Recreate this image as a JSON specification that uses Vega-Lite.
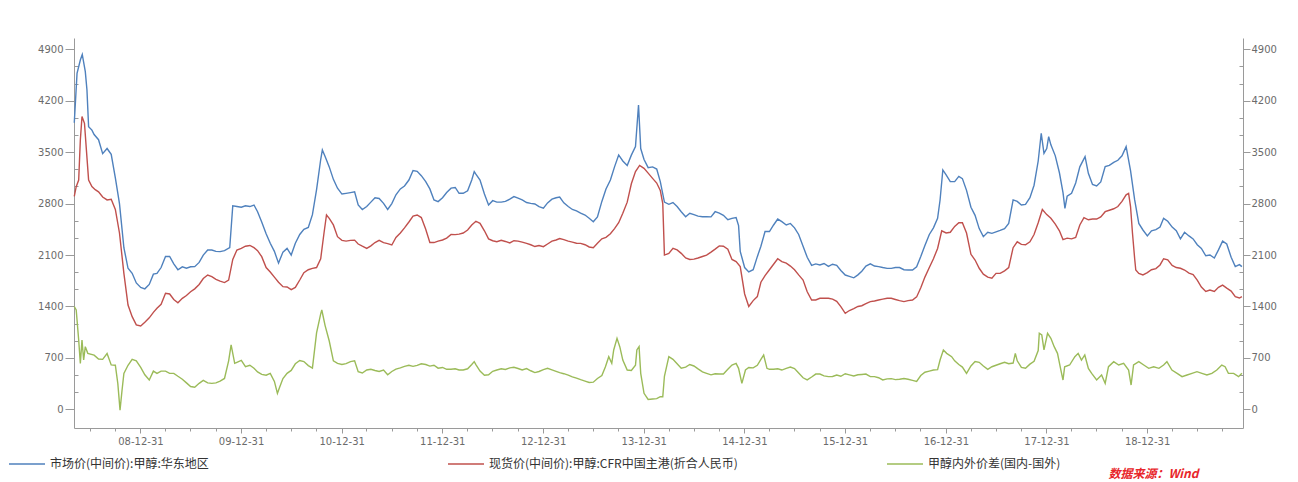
{
"$schema": "https://vega.github.io/schema/vega-lite/v6.json",
"width": 1169, "height": 390,
"autosize": {"type": "none"},
"padding": {"left": 74, "top": 38, "right": 55, "bottom": 54},
"background": "white",
"config": {"view": {"stroke": null}, "axis": {"grid": false, "domainColor": "#9a9a9a", "tickColor": "#9a9a9a", "labelColor": "#6b6b6b", "labelFont": "DejaVu Sans", "labelFontSize": 10}},
"title": {"text": "数据来源：Wind", "orient": "bottom", "anchor": "end", "font": "Noto Sans CJK SC", "fontSize": 12, "fontStyle": "italic", "fontWeight": "bold", "color": "#e8262b", "offset": -1, "dx": -78},
"datasets": {
"east": [
{"date":"2008-05-05","value":3900},{"date":"2008-05-15","value":4573},{"date":"2008-05-27","value":4755},{"date":"2008-06-03","value":4830},{"date":"2008-06-14","value":4596},{"date":"2008-06-20","value":4346},{"date":"2008-06-26","value":3847},{"date":"2008-07-08","value":3800},{"date":"2008-07-16","value":3740},{"date":"2008-08-01","value":3670},{"date":"2008-08-16","value":3480},{"date":"2008-09-01","value":3550},{"date":"2008-09-16","value":3470},{"date":"2008-10-01","value":3150},{"date":"2008-10-16","value":2800},{"date":"2008-11-01","value":2200},{"date":"2008-11-16","value":1920},{"date":"2008-12-01","value":1851},{"date":"2008-12-16","value":1720},
{"date":"2009-01-01","value":1660},{"date":"2009-01-16","value":1640},{"date":"2009-02-01","value":1700},{"date":"2009-02-16","value":1840},{"date":"2009-03-01","value":1850},{"date":"2009-03-16","value":1930},{"date":"2009-04-01","value":2080},{"date":"2009-04-16","value":2080},{"date":"2009-05-01","value":1980},{"date":"2009-05-16","value":1900},{"date":"2009-06-01","value":1940},{"date":"2009-06-16","value":1920},{"date":"2009-07-01","value":1940},{"date":"2009-07-16","value":1942},{"date":"2009-08-01","value":2000},{"date":"2009-08-16","value":2100},{"date":"2009-09-01","value":2169},{"date":"2009-09-16","value":2169},{"date":"2009-10-01","value":2150},{"date":"2009-10-16","value":2146},{"date":"2009-11-01","value":2160},{"date":"2009-11-20","value":2200},{"date":"2009-12-01","value":2770},{"date":"2009-12-16","value":2760},
{"date":"2010-01-01","value":2750},{"date":"2010-01-16","value":2770},{"date":"2010-02-01","value":2760},{"date":"2010-02-16","value":2781},{"date":"2010-03-01","value":2690},{"date":"2010-03-16","value":2550},{"date":"2010-04-01","value":2390},{"date":"2010-04-16","value":2260},{"date":"2010-05-01","value":2150},{"date":"2010-05-16","value":1990},{"date":"2010-06-01","value":2140},{"date":"2010-06-16","value":2190},{"date":"2010-07-01","value":2100},{"date":"2010-07-16","value":2260},{"date":"2010-08-01","value":2380},{"date":"2010-08-16","value":2450},{"date":"2010-09-01","value":2475},{"date":"2010-09-16","value":2650},{"date":"2010-10-01","value":2990},{"date":"2010-10-16","value":3400},{"date":"2010-10-22","value":3530},{"date":"2010-11-01","value":3440},{"date":"2010-11-16","value":3300},{"date":"2010-12-01","value":3130},{"date":"2010-12-16","value":3010},
{"date":"2011-01-01","value":2930},{"date":"2011-01-16","value":2940},{"date":"2011-02-01","value":2950},{"date":"2011-02-16","value":2960},{"date":"2011-03-01","value":2781},{"date":"2011-03-16","value":2720},{"date":"2011-04-01","value":2760},{"date":"2011-04-16","value":2820},{"date":"2011-05-01","value":2880},{"date":"2011-05-16","value":2870},{"date":"2011-06-01","value":2804},{"date":"2011-06-16","value":2720},{"date":"2011-07-01","value":2800},{"date":"2011-07-16","value":2920},{"date":"2011-08-01","value":3000},{"date":"2011-08-16","value":3040},{"date":"2011-09-01","value":3121},{"date":"2011-09-16","value":3250},{"date":"2011-10-01","value":3240},{"date":"2011-10-16","value":3180},{"date":"2011-11-01","value":3100},{"date":"2011-11-16","value":3000},{"date":"2011-12-01","value":2849},{"date":"2011-12-16","value":2827},
{"date":"2012-01-01","value":2880},{"date":"2012-01-16","value":2950},{"date":"2012-02-01","value":3010},{"date":"2012-02-16","value":3020},{"date":"2012-03-01","value":2940},{"date":"2012-03-16","value":2940},{"date":"2012-04-01","value":2975},{"date":"2012-04-16","value":3121},{"date":"2012-04-25","value":3235},{"date":"2012-05-01","value":3200},{"date":"2012-05-16","value":3121},{"date":"2012-06-01","value":2930},{"date":"2012-06-16","value":2781},{"date":"2012-07-01","value":2840},{"date":"2012-07-16","value":2820},{"date":"2012-08-01","value":2820},{"date":"2012-08-16","value":2830},{"date":"2012-09-01","value":2860},{"date":"2012-09-16","value":2895},{"date":"2012-10-01","value":2875},{"date":"2012-10-16","value":2850},{"date":"2012-11-01","value":2815},{"date":"2012-11-16","value":2804},{"date":"2012-12-01","value":2795},{"date":"2012-12-16","value":2758},
{"date":"2013-01-01","value":2738},{"date":"2013-01-16","value":2810},{"date":"2013-02-01","value":2860},{"date":"2013-02-16","value":2880},{"date":"2013-03-01","value":2890},{"date":"2013-03-16","value":2810},{"date":"2013-04-01","value":2760},{"date":"2013-04-16","value":2720},{"date":"2013-05-01","value":2700},{"date":"2013-05-16","value":2670},{"date":"2013-06-01","value":2645},{"date":"2013-06-16","value":2600},{"date":"2013-07-01","value":2554},{"date":"2013-07-16","value":2620},{"date":"2013-08-01","value":2830},{"date":"2013-08-16","value":3000},{"date":"2013-09-01","value":3121},{"date":"2013-09-16","value":3300},{"date":"2013-10-01","value":3462},{"date":"2013-10-16","value":3380},{"date":"2013-11-01","value":3320},{"date":"2013-11-16","value":3460},{"date":"2013-12-01","value":3575},{"date":"2013-12-12","value":4142},{"date":"2013-12-20","value":3550},
{"date":"2014-01-01","value":3400},{"date":"2014-01-16","value":3290},{"date":"2014-02-01","value":3300},{"date":"2014-02-16","value":3270},{"date":"2014-03-01","value":3100},{"date":"2014-03-16","value":2820},{"date":"2014-04-01","value":2790},{"date":"2014-04-16","value":2815},{"date":"2014-05-01","value":2760},{"date":"2014-05-16","value":2690},{"date":"2014-06-01","value":2622},{"date":"2014-06-16","value":2668},{"date":"2014-07-01","value":2650},{"date":"2014-07-16","value":2630},{"date":"2014-08-01","value":2622},{"date":"2014-08-16","value":2622},{"date":"2014-09-01","value":2620},{"date":"2014-09-16","value":2690},{"date":"2014-10-01","value":2670},{"date":"2014-10-16","value":2640},{"date":"2014-11-01","value":2580},{"date":"2014-11-16","value":2600},{"date":"2014-12-01","value":2610},{"date":"2014-12-10","value":2500},{"date":"2014-12-16","value":2150},
{"date":"2015-01-01","value":1930},{"date":"2015-01-16","value":1870},{"date":"2015-02-01","value":1900},{"date":"2015-02-16","value":2078},{"date":"2015-03-01","value":2220},{"date":"2015-03-16","value":2420},{"date":"2015-04-01","value":2420},{"date":"2015-04-16","value":2509},{"date":"2015-05-01","value":2590},{"date":"2015-05-16","value":2554},{"date":"2015-06-01","value":2509},{"date":"2015-06-16","value":2530},{"date":"2015-07-01","value":2470},{"date":"2015-07-16","value":2380},{"date":"2015-08-01","value":2220},{"date":"2015-08-16","value":2070},{"date":"2015-09-01","value":1960},{"date":"2015-09-16","value":1980},{"date":"2015-10-01","value":1965},{"date":"2015-10-16","value":1985},{"date":"2015-11-01","value":1945},{"date":"2015-11-16","value":1975},{"date":"2015-12-01","value":1960},{"date":"2015-12-16","value":1890},
{"date":"2016-01-01","value":1828},{"date":"2016-01-16","value":1810},{"date":"2016-02-01","value":1790},{"date":"2016-02-16","value":1830},{"date":"2016-03-01","value":1880},{"date":"2016-03-16","value":1950},{"date":"2016-04-01","value":1980},{"date":"2016-04-16","value":1950},{"date":"2016-05-01","value":1942},{"date":"2016-05-16","value":1930},{"date":"2016-06-01","value":1919},{"date":"2016-06-16","value":1919},{"date":"2016-07-01","value":1930},{"date":"2016-07-16","value":1930},{"date":"2016-08-01","value":1900},{"date":"2016-08-16","value":1896},{"date":"2016-09-01","value":1896},{"date":"2016-09-16","value":1940},{"date":"2016-10-01","value":2080},{"date":"2016-10-16","value":2230},{"date":"2016-11-01","value":2380},{"date":"2016-11-16","value":2470},{"date":"2016-12-01","value":2600},{"date":"2016-12-10","value":2849},{"date":"2016-12-20","value":3258},
{"date":"2017-01-01","value":3190},{"date":"2017-01-16","value":3099},{"date":"2017-02-01","value":3099},{"date":"2017-02-16","value":3170},{"date":"2017-03-01","value":3140},{"date":"2017-03-16","value":2980},{"date":"2017-04-01","value":2750},{"date":"2017-04-16","value":2640},{"date":"2017-05-01","value":2460},{"date":"2017-05-16","value":2350},{"date":"2017-06-01","value":2410},{"date":"2017-06-16","value":2395},{"date":"2017-07-01","value":2415},{"date":"2017-07-16","value":2435},{"date":"2017-08-01","value":2460},{"date":"2017-08-16","value":2530},{"date":"2017-09-01","value":2850},{"date":"2017-09-16","value":2830},{"date":"2017-10-01","value":2781},{"date":"2017-10-16","value":2790},{"date":"2017-11-01","value":2880},{"date":"2017-11-16","value":3050},{"date":"2017-12-01","value":3380},{"date":"2017-12-12","value":3757},{"date":"2017-12-22","value":3484},
{"date":"2018-01-01","value":3550},{"date":"2018-01-08","value":3711},{"date":"2018-01-16","value":3600},{"date":"2018-02-01","value":3450},{"date":"2018-02-16","value":3220},{"date":"2018-03-01","value":2950},{"date":"2018-03-08","value":2736},{"date":"2018-03-16","value":2900},{"date":"2018-04-01","value":2940},{"date":"2018-04-16","value":3080},{"date":"2018-05-01","value":3300},{"date":"2018-05-20","value":3439},{"date":"2018-06-01","value":3212},{"date":"2018-06-16","value":3060},{"date":"2018-07-01","value":3040},{"date":"2018-07-16","value":3095},{"date":"2018-08-01","value":3303},{"date":"2018-08-16","value":3320},{"date":"2018-09-01","value":3360},{"date":"2018-09-16","value":3390},{"date":"2018-10-01","value":3450},{"date":"2018-10-16","value":3575},{"date":"2018-11-01","value":3250},{"date":"2018-11-16","value":2850},{"date":"2018-12-01","value":2530},{"date":"2018-12-16","value":2441},
{"date":"2019-01-01","value":2360},{"date":"2019-01-16","value":2430},{"date":"2019-02-01","value":2445},{"date":"2019-02-16","value":2480},{"date":"2019-03-01","value":2600},{"date":"2019-03-16","value":2560},{"date":"2019-04-01","value":2480},{"date":"2019-04-16","value":2430},{"date":"2019-05-01","value":2320},{"date":"2019-05-16","value":2410},{"date":"2019-06-01","value":2360},{"date":"2019-06-16","value":2320},{"date":"2019-07-01","value":2240},{"date":"2019-07-16","value":2191},{"date":"2019-08-01","value":2090},{"date":"2019-08-16","value":2100},{"date":"2019-09-01","value":2060},{"date":"2019-09-16","value":2170},{"date":"2019-10-01","value":2290},{"date":"2019-10-16","value":2250},{"date":"2019-11-01","value":2070},{"date":"2019-11-16","value":1942},{"date":"2019-12-01","value":1970},{"date":"2019-12-10","value":1942}
],
"cfr": [
{"date":"2008-05-05","value":2900},{"date":"2008-05-12","value":3031},{"date":"2008-05-21","value":3121},{"date":"2008-05-27","value":3666},{"date":"2008-06-02","value":3984},{"date":"2008-06-11","value":3893},{"date":"2008-06-18","value":3530},{"date":"2008-06-26","value":3121},{"date":"2008-07-08","value":3031},{"date":"2008-07-20","value":2990},{"date":"2008-08-01","value":2960},{"date":"2008-08-16","value":2890},{"date":"2008-09-01","value":2850},{"date":"2008-09-16","value":2860},{"date":"2008-10-01","value":2720},{"date":"2008-10-16","value":2400},{"date":"2008-11-01","value":1851},{"date":"2008-11-16","value":1420},{"date":"2008-12-01","value":1261},{"date":"2008-12-16","value":1150},
{"date":"2009-01-01","value":1135},{"date":"2009-01-16","value":1185},{"date":"2009-02-01","value":1245},{"date":"2009-02-16","value":1320},{"date":"2009-03-01","value":1375},{"date":"2009-03-16","value":1430},{"date":"2009-04-01","value":1580},{"date":"2009-04-16","value":1570},{"date":"2009-05-01","value":1495},{"date":"2009-05-16","value":1450},{"date":"2009-06-01","value":1511},{"date":"2009-06-16","value":1550},{"date":"2009-07-01","value":1600},{"date":"2009-07-16","value":1640},{"date":"2009-08-01","value":1700},{"date":"2009-08-16","value":1780},{"date":"2009-09-01","value":1828},{"date":"2009-09-16","value":1806},{"date":"2009-10-01","value":1770},{"date":"2009-10-16","value":1745},{"date":"2009-11-01","value":1725},{"date":"2009-11-16","value":1760},{"date":"2009-12-01","value":2040},{"date":"2009-12-16","value":2169},
{"date":"2010-01-01","value":2190},{"date":"2010-01-16","value":2220},{"date":"2010-02-01","value":2230},{"date":"2010-02-16","value":2200},{"date":"2010-03-01","value":2160},{"date":"2010-03-16","value":2078},{"date":"2010-04-01","value":1930},{"date":"2010-04-16","value":1870},{"date":"2010-05-01","value":1800},{"date":"2010-05-16","value":1730},{"date":"2010-06-01","value":1670},{"date":"2010-06-16","value":1665},{"date":"2010-07-01","value":1630},{"date":"2010-07-16","value":1660},{"date":"2010-08-01","value":1760},{"date":"2010-08-16","value":1860},{"date":"2010-09-01","value":1900},{"date":"2010-09-16","value":1919},{"date":"2010-10-01","value":1930},{"date":"2010-10-16","value":2050},{"date":"2010-10-28","value":2400},{"date":"2010-11-06","value":2645},{"date":"2010-11-16","value":2600},{"date":"2010-12-01","value":2510},{"date":"2010-12-16","value":2350},
{"date":"2011-01-01","value":2300},{"date":"2011-01-16","value":2290},{"date":"2011-02-01","value":2300},{"date":"2011-02-16","value":2303},{"date":"2011-03-01","value":2250},{"date":"2011-03-16","value":2220},{"date":"2011-04-01","value":2191},{"date":"2011-04-16","value":2225},{"date":"2011-05-01","value":2270},{"date":"2011-05-16","value":2300},{"date":"2011-06-01","value":2270},{"date":"2011-06-16","value":2255},{"date":"2011-07-01","value":2237},{"date":"2011-07-16","value":2340},{"date":"2011-08-01","value":2400},{"date":"2011-08-16","value":2470},{"date":"2011-09-01","value":2550},{"date":"2011-09-16","value":2630},{"date":"2011-10-01","value":2645},{"date":"2011-10-16","value":2610},{"date":"2011-11-01","value":2450},{"date":"2011-11-16","value":2270},{"date":"2011-12-01","value":2270},{"date":"2011-12-16","value":2290},
{"date":"2012-01-01","value":2305},{"date":"2012-01-16","value":2330},{"date":"2012-02-01","value":2380},{"date":"2012-02-16","value":2378},{"date":"2012-03-01","value":2385},{"date":"2012-03-16","value":2400},{"date":"2012-04-01","value":2440},{"date":"2012-04-16","value":2509},{"date":"2012-05-01","value":2560},{"date":"2012-05-16","value":2532},{"date":"2012-06-01","value":2430},{"date":"2012-06-16","value":2320},{"date":"2012-07-01","value":2295},{"date":"2012-07-16","value":2282},{"date":"2012-08-01","value":2300},{"date":"2012-08-16","value":2285},{"date":"2012-09-01","value":2265},{"date":"2012-09-16","value":2295},{"date":"2012-10-01","value":2290},{"date":"2012-10-16","value":2275},{"date":"2012-11-01","value":2259},{"date":"2012-11-16","value":2240},{"date":"2012-12-01","value":2216},{"date":"2012-12-16","value":2230},
{"date":"2013-01-01","value":2214},{"date":"2013-01-16","value":2250},{"date":"2013-02-01","value":2290},{"date":"2013-02-16","value":2305},{"date":"2013-03-01","value":2325},{"date":"2013-03-16","value":2310},{"date":"2013-04-01","value":2290},{"date":"2013-04-16","value":2275},{"date":"2013-05-01","value":2260},{"date":"2013-05-16","value":2259},{"date":"2013-06-01","value":2240},{"date":"2013-06-16","value":2210},{"date":"2013-07-01","value":2200},{"date":"2013-07-16","value":2260},{"date":"2013-08-01","value":2320},{"date":"2013-08-16","value":2340},{"date":"2013-09-01","value":2390},{"date":"2013-09-16","value":2460},{"date":"2013-10-01","value":2540},{"date":"2013-10-16","value":2670},{"date":"2013-11-01","value":2820},{"date":"2013-11-16","value":3070},{"date":"2013-12-01","value":3235},{"date":"2013-12-16","value":3320},
{"date":"2014-01-01","value":3280},{"date":"2014-01-16","value":3215},{"date":"2014-02-01","value":3144},{"date":"2014-02-16","value":3080},{"date":"2014-03-01","value":2980},{"date":"2014-03-10","value":2800},{"date":"2014-03-16","value":2100},{"date":"2014-04-01","value":2123},{"date":"2014-04-16","value":2191},{"date":"2014-05-01","value":2169},{"date":"2014-05-16","value":2123},{"date":"2014-06-01","value":2060},{"date":"2014-06-16","value":2040},{"date":"2014-07-01","value":2045},{"date":"2014-07-16","value":2060},{"date":"2014-08-01","value":2080},{"date":"2014-08-16","value":2100},{"date":"2014-09-01","value":2140},{"date":"2014-09-16","value":2180},{"date":"2014-10-01","value":2225},{"date":"2014-10-16","value":2220},{"date":"2014-11-01","value":2180},{"date":"2014-11-16","value":2040},{"date":"2014-12-01","value":2010},{"date":"2014-12-16","value":1942},
{"date":"2015-01-01","value":1570},{"date":"2015-01-16","value":1400},{"date":"2015-02-01","value":1480},{"date":"2015-02-16","value":1534},{"date":"2015-03-01","value":1730},{"date":"2015-03-16","value":1820},{"date":"2015-04-01","value":1900},{"date":"2015-04-16","value":1975},{"date":"2015-05-01","value":2050},{"date":"2015-05-16","value":2010},{"date":"2015-06-01","value":1990},{"date":"2015-06-16","value":1950},{"date":"2015-07-01","value":1900},{"date":"2015-07-16","value":1830},{"date":"2015-08-01","value":1760},{"date":"2015-08-16","value":1600},{"date":"2015-09-01","value":1488},{"date":"2015-09-16","value":1488},{"date":"2015-10-01","value":1511},{"date":"2015-10-16","value":1511},{"date":"2015-11-01","value":1511},{"date":"2015-11-16","value":1500},{"date":"2015-12-01","value":1470},{"date":"2015-12-16","value":1397},
{"date":"2016-01-01","value":1307},{"date":"2016-01-16","value":1345},{"date":"2016-02-01","value":1370},{"date":"2016-02-16","value":1400},{"date":"2016-03-01","value":1410},{"date":"2016-03-16","value":1440},{"date":"2016-04-01","value":1466},{"date":"2016-04-16","value":1475},{"date":"2016-05-01","value":1488},{"date":"2016-05-16","value":1500},{"date":"2016-06-01","value":1511},{"date":"2016-06-16","value":1511},{"date":"2016-07-01","value":1495},{"date":"2016-07-16","value":1480},{"date":"2016-08-01","value":1466},{"date":"2016-08-16","value":1480},{"date":"2016-09-01","value":1488},{"date":"2016-09-16","value":1530},{"date":"2016-10-01","value":1655},{"date":"2016-10-16","value":1800},{"date":"2016-11-01","value":1930},{"date":"2016-11-16","value":2050},{"date":"2016-12-01","value":2190},{"date":"2016-12-16","value":2430},
{"date":"2017-01-01","value":2400},{"date":"2017-01-16","value":2410},{"date":"2017-02-01","value":2490},{"date":"2017-02-16","value":2540},{"date":"2017-03-01","value":2540},{"date":"2017-03-16","value":2400},{"date":"2017-04-01","value":2110},{"date":"2017-04-16","value":2032},{"date":"2017-05-01","value":1920},{"date":"2017-05-16","value":1840},{"date":"2017-06-01","value":1800},{"date":"2017-06-16","value":1785},{"date":"2017-07-01","value":1851},{"date":"2017-07-16","value":1851},{"date":"2017-08-01","value":1885},{"date":"2017-08-16","value":1930},{"date":"2017-09-01","value":2200},{"date":"2017-09-16","value":2280},{"date":"2017-10-01","value":2245},{"date":"2017-10-16","value":2240},{"date":"2017-11-01","value":2280},{"date":"2017-11-16","value":2380},{"date":"2017-12-01","value":2540},{"date":"2017-12-16","value":2720},
{"date":"2018-01-01","value":2650},{"date":"2018-01-16","value":2600},{"date":"2018-02-01","value":2520},{"date":"2018-02-16","value":2430},{"date":"2018-03-01","value":2310},{"date":"2018-03-16","value":2330},{"date":"2018-04-01","value":2320},{"date":"2018-04-16","value":2340},{"date":"2018-05-01","value":2509},{"date":"2018-05-16","value":2610},{"date":"2018-06-01","value":2580},{"date":"2018-06-16","value":2590},{"date":"2018-07-01","value":2590},{"date":"2018-07-16","value":2620},{"date":"2018-08-01","value":2690},{"date":"2018-08-16","value":2710},{"date":"2018-09-01","value":2730},{"date":"2018-09-16","value":2760},{"date":"2018-10-01","value":2830},{"date":"2018-10-16","value":2920},{"date":"2018-10-25","value":2940},{"date":"2018-11-01","value":2760},{"date":"2018-11-08","value":2400},{"date":"2018-11-16","value":2050},{"date":"2018-11-20","value":1896},{"date":"2018-12-01","value":1850},{"date":"2018-12-16","value":1830},
{"date":"2019-01-01","value":1860},{"date":"2019-01-16","value":1900},{"date":"2019-02-01","value":1915},{"date":"2019-02-16","value":1965},{"date":"2019-03-01","value":2050},{"date":"2019-03-16","value":2035},{"date":"2019-04-01","value":1960},{"date":"2019-04-16","value":1930},{"date":"2019-05-01","value":1920},{"date":"2019-05-16","value":1896},{"date":"2019-06-01","value":1855},{"date":"2019-06-16","value":1835},{"date":"2019-07-01","value":1760},{"date":"2019-07-16","value":1665},{"date":"2019-08-01","value":1605},{"date":"2019-08-16","value":1624},{"date":"2019-09-01","value":1605},{"date":"2019-09-16","value":1660},{"date":"2019-10-01","value":1690},{"date":"2019-10-16","value":1650},{"date":"2019-11-01","value":1610},{"date":"2019-11-16","value":1534},{"date":"2019-12-01","value":1515},{"date":"2019-12-10","value":1534}
],
"spread": [
{"date":"2008-05-05","value":1400},{"date":"2008-05-12","value":1352},{"date":"2008-05-21","value":944},{"date":"2008-05-27","value":626},{"date":"2008-06-02","value":944},{"date":"2008-06-08","value":671},{"date":"2008-06-14","value":853},{"date":"2008-06-23","value":762},{"date":"2008-07-16","value":738},{"date":"2008-08-01","value":685},{"date":"2008-08-16","value":680},{"date":"2008-09-01","value":760},{"date":"2008-09-16","value":605},{"date":"2008-10-01","value":600},{"date":"2008-10-10","value":350},{"date":"2008-10-18","value":-10},{"date":"2008-10-25","value":250},{"date":"2008-11-01","value":490},{"date":"2008-11-16","value":600},{"date":"2008-12-01","value":680},{"date":"2008-12-16","value":660},
{"date":"2009-01-01","value":570},{"date":"2009-01-16","value":470},{"date":"2009-02-01","value":399},{"date":"2009-02-16","value":520},{"date":"2009-03-01","value":490},{"date":"2009-03-16","value":520},{"date":"2009-04-01","value":520},{"date":"2009-04-16","value":490},{"date":"2009-05-01","value":490},{"date":"2009-05-16","value":450},{"date":"2009-06-01","value":410},{"date":"2009-06-16","value":360},{"date":"2009-07-01","value":310},{"date":"2009-07-16","value":300},{"date":"2009-08-01","value":354},{"date":"2009-08-16","value":395},{"date":"2009-09-01","value":360},{"date":"2009-09-16","value":354},{"date":"2009-10-01","value":360},{"date":"2009-10-16","value":385},{"date":"2009-11-01","value":420},{"date":"2009-11-16","value":660},{"date":"2009-11-25","value":876},{"date":"2009-12-08","value":626},{"date":"2009-12-16","value":640},
{"date":"2010-01-01","value":665},{"date":"2010-01-16","value":580},{"date":"2010-02-01","value":600},{"date":"2010-02-16","value":560},{"date":"2010-03-01","value":510},{"date":"2010-03-16","value":475},{"date":"2010-04-01","value":465},{"date":"2010-04-16","value":490},{"date":"2010-05-01","value":380},{"date":"2010-05-12","value":218},{"date":"2010-05-20","value":300},{"date":"2010-06-01","value":420},{"date":"2010-06-16","value":490},{"date":"2010-07-01","value":530},{"date":"2010-07-16","value":620},{"date":"2010-08-01","value":665},{"date":"2010-08-16","value":650},{"date":"2010-09-01","value":595},{"date":"2010-09-16","value":560},{"date":"2010-10-01","value":1040},{"date":"2010-10-16","value":1300},{"date":"2010-10-20","value":1352},{"date":"2010-11-01","value":1140},{"date":"2010-11-16","value":930},{"date":"2010-12-01","value":660},{"date":"2010-12-16","value":625},
{"date":"2011-01-01","value":610},{"date":"2011-01-16","value":622},{"date":"2011-02-01","value":650},{"date":"2011-02-16","value":660},{"date":"2011-03-01","value":513},{"date":"2011-03-16","value":495},{"date":"2011-04-01","value":535},{"date":"2011-04-16","value":545},{"date":"2011-05-01","value":528},{"date":"2011-05-16","value":515},{"date":"2011-06-01","value":535},{"date":"2011-06-16","value":470},{"date":"2011-07-01","value":515},{"date":"2011-07-16","value":548},{"date":"2011-08-01","value":565},{"date":"2011-08-16","value":585},{"date":"2011-09-01","value":600},{"date":"2011-09-16","value":585},{"date":"2011-10-01","value":598},{"date":"2011-10-16","value":620},{"date":"2011-11-01","value":610},{"date":"2011-11-16","value":588},{"date":"2011-12-01","value":600},{"date":"2011-12-16","value":560},
{"date":"2012-01-01","value":570},{"date":"2012-01-16","value":545},{"date":"2012-02-01","value":545},{"date":"2012-02-16","value":552},{"date":"2012-03-01","value":535},{"date":"2012-03-16","value":535},{"date":"2012-04-01","value":552},{"date":"2012-04-16","value":610},{"date":"2012-04-25","value":649},{"date":"2012-05-01","value":610},{"date":"2012-05-16","value":520},{"date":"2012-06-01","value":465},{"date":"2012-06-16","value":470},{"date":"2012-07-01","value":518},{"date":"2012-07-16","value":535},{"date":"2012-08-01","value":553},{"date":"2012-08-16","value":543},{"date":"2012-09-01","value":565},{"date":"2012-09-16","value":572},{"date":"2012-10-01","value":556},{"date":"2012-10-16","value":535},{"date":"2012-11-01","value":555},{"date":"2012-11-16","value":525},{"date":"2012-12-01","value":500},{"date":"2012-12-16","value":515},
{"date":"2013-01-01","value":540},{"date":"2013-01-16","value":558},{"date":"2013-02-01","value":537},{"date":"2013-02-16","value":517},{"date":"2013-03-01","value":500},{"date":"2013-03-16","value":485},{"date":"2013-04-01","value":466},{"date":"2013-04-16","value":442},{"date":"2013-05-01","value":424},{"date":"2013-05-16","value":404},{"date":"2013-06-01","value":385},{"date":"2013-06-16","value":365},{"date":"2013-07-01","value":370},{"date":"2013-07-16","value":420},{"date":"2013-08-01","value":460},{"date":"2013-08-14","value":580},{"date":"2013-08-26","value":717},{"date":"2013-09-06","value":626},{"date":"2013-09-13","value":808},{"date":"2013-09-25","value":966},{"date":"2013-10-05","value":853},{"date":"2013-10-16","value":671},{"date":"2013-11-01","value":535},{"date":"2013-11-16","value":530},{"date":"2013-12-01","value":600},{"date":"2013-12-06","value":808},{"date":"2013-12-14","value":853},{"date":"2013-12-20","value":490},
{"date":"2014-01-01","value":218},{"date":"2014-01-16","value":135},{"date":"2014-02-01","value":140},{"date":"2014-02-16","value":145},{"date":"2014-03-01","value":172},{"date":"2014-03-10","value":172},{"date":"2014-03-16","value":450},{"date":"2014-04-01","value":717},{"date":"2014-04-16","value":680},{"date":"2014-05-01","value":620},{"date":"2014-05-16","value":560},{"date":"2014-06-01","value":575},{"date":"2014-06-16","value":610},{"date":"2014-07-01","value":590},{"date":"2014-07-16","value":550},{"date":"2014-08-01","value":510},{"date":"2014-08-16","value":490},{"date":"2014-09-01","value":470},{"date":"2014-09-16","value":485},{"date":"2014-10-01","value":480},{"date":"2014-10-16","value":480},{"date":"2014-11-01","value":545},{"date":"2014-11-16","value":603},{"date":"2014-12-01","value":626},{"date":"2014-12-10","value":558},{"date":"2014-12-22","value":354},
{"date":"2015-01-04","value":535},{"date":"2015-01-16","value":570},{"date":"2015-02-01","value":565},{"date":"2015-02-16","value":600},{"date":"2015-03-01","value":680},{"date":"2015-03-11","value":740},{"date":"2015-03-23","value":558},{"date":"2015-04-01","value":545},{"date":"2015-04-16","value":545},{"date":"2015-05-01","value":552},{"date":"2015-05-16","value":535},{"date":"2015-06-01","value":558},{"date":"2015-06-16","value":575},{"date":"2015-07-01","value":555},{"date":"2015-07-16","value":495},{"date":"2015-08-01","value":430},{"date":"2015-08-16","value":400},{"date":"2015-09-01","value":440},{"date":"2015-09-16","value":480},{"date":"2015-10-01","value":480},{"date":"2015-10-16","value":456},{"date":"2015-11-01","value":445},{"date":"2015-11-16","value":447},{"date":"2015-12-01","value":467},{"date":"2015-12-16","value":450},
{"date":"2016-01-01","value":485},{"date":"2016-01-16","value":470},{"date":"2016-02-01","value":455},{"date":"2016-02-16","value":470},{"date":"2016-03-01","value":475},{"date":"2016-03-16","value":480},{"date":"2016-04-01","value":445},{"date":"2016-04-16","value":445},{"date":"2016-05-01","value":430},{"date":"2016-05-16","value":400},{"date":"2016-06-01","value":415},{"date":"2016-06-16","value":418},{"date":"2016-07-01","value":405},{"date":"2016-07-16","value":410},{"date":"2016-08-01","value":420},{"date":"2016-08-16","value":410},{"date":"2016-09-01","value":395},{"date":"2016-09-16","value":380},{"date":"2016-10-01","value":460},{"date":"2016-10-16","value":505},{"date":"2016-11-01","value":520},{"date":"2016-11-16","value":535},{"date":"2016-12-01","value":540},{"date":"2016-12-10","value":671},{"date":"2016-12-22","value":808},
{"date":"2017-01-03","value":762},{"date":"2017-01-21","value":717},{"date":"2017-02-01","value":660},{"date":"2017-02-16","value":610},{"date":"2017-03-01","value":575},{"date":"2017-03-16","value":490},{"date":"2017-04-01","value":590},{"date":"2017-04-16","value":650},{"date":"2017-05-01","value":640},{"date":"2017-05-16","value":590},{"date":"2017-06-01","value":545},{"date":"2017-06-16","value":580},{"date":"2017-07-01","value":600},{"date":"2017-07-16","value":620},{"date":"2017-08-01","value":640},{"date":"2017-08-16","value":620},{"date":"2017-09-01","value":630},{"date":"2017-09-09","value":762},{"date":"2017-09-16","value":660},{"date":"2017-10-01","value":570},{"date":"2017-10-16","value":560},{"date":"2017-11-01","value":615},{"date":"2017-11-16","value":655},{"date":"2017-12-01","value":800},{"date":"2017-12-05","value":1035},{"date":"2017-12-14","value":1012},{"date":"2017-12-22","value":808},
{"date":"2018-01-04","value":1035},{"date":"2018-01-16","value":966},{"date":"2018-01-28","value":853},{"date":"2018-02-09","value":762},{"date":"2018-02-20","value":558},{"date":"2018-03-01","value":399},{"date":"2018-03-07","value":580},{"date":"2018-03-25","value":603},{"date":"2018-04-13","value":717},{"date":"2018-04-25","value":762},{"date":"2018-05-07","value":671},{"date":"2018-05-19","value":740},{"date":"2018-06-01","value":558},{"date":"2018-06-13","value":490},{"date":"2018-07-01","value":399},{"date":"2018-07-19","value":467},{"date":"2018-08-01","value":354},{"date":"2018-08-13","value":580},{"date":"2018-09-01","value":649},{"date":"2018-09-19","value":603},{"date":"2018-10-07","value":626},{"date":"2018-10-25","value":535},{"date":"2018-11-03","value":331},{"date":"2018-11-12","value":603},{"date":"2018-12-01","value":649},{"date":"2018-12-19","value":603},
{"date":"2019-01-06","value":558},{"date":"2019-01-24","value":580},{"date":"2019-02-12","value":558},{"date":"2019-03-01","value":603},{"date":"2019-03-13","value":649},{"date":"2019-03-31","value":535},{"date":"2019-04-19","value":490},{"date":"2019-05-07","value":445},{"date":"2019-05-25","value":467},{"date":"2019-06-12","value":490},{"date":"2019-06-30","value":513},{"date":"2019-07-18","value":490},{"date":"2019-08-05","value":467},{"date":"2019-08-23","value":490},{"date":"2019-09-10","value":535},{"date":"2019-09-28","value":603},{"date":"2019-10-10","value":580},{"date":"2019-10-22","value":490},{"date":"2019-11-10","value":490},{"date":"2019-11-28","value":445},{"date":"2019-12-10","value":490}
]
},
"layer": [
{
"data": {"name": "east"},
"mark": {"type": "line", "strokeWidth": 1.4},
"encoding": {
"x": {"field": "date", "type": "temporal",
 "scale": {"type": "utc", "domain": [{"year": 2008, "month": 5, "date": 4, "utc": true}, {"year": 2019, "month": 12, "date": 14, "utc": true}]},
 "axis": {"orient": "bottom", "title": null, "format": "%y-%m-%d", "tickSize": 5, "labelPadding": 3, "labelFontSize": 10, "labelFlush": false, "labelOverlap": false,
  "values": [{"year":2008,"month":12,"date":31,"utc":true},{"year":2009,"month":12,"date":31,"utc":true},{"year":2010,"month":12,"date":31,"utc":true},{"year":2011,"month":12,"date":31,"utc":true},{"year":2012,"month":12,"date":31,"utc":true},{"year":2013,"month":12,"date":31,"utc":true},{"year":2014,"month":12,"date":31,"utc":true},{"year":2015,"month":12,"date":31,"utc":true},{"year":2016,"month":12,"date":31,"utc":true},{"year":2017,"month":12,"date":31,"utc":true},{"year":2018,"month":12,"date":31,"utc":true}]}},
"y": {"field": "value", "type": "quantitative",
 "scale": {"domain": [-254, 5054], "nice": false, "zero": false},
 "axis": {"orient": "left", "title": null, "format": "d", "values": [0, 700, 1400, 2100, 2800, 3500, 4200, 4900], "tickSize": 9, "labelPadding": 2}},
"color": {"datum": "市场价(中间价):甲醇:华东地区", "type": "nominal",
 "scale": {"domain": ["市场价(中间价):甲醇:华东地区", "现货价(中间价):甲醇:CFR中国主港(折合人民币)", "甲醇内外价差(国内-国外)"], "range": ["#4f81bd", "#c0504d", "#9bbb59"]},
 "legend": {"orient": "none", "legendX": -66, "legendY": 407, "direction": "horizontal", "columns": 3, "gridAlign": "all", "columnPadding": 145, "symbolType": "stroke", "symbolSize": 1300, "symbolStrokeWidth": 1.5, "labelFont": "Noto Sans CJK SC", "labelFontSize": 12, "labelColor": "#333333", "labelLimit": 600, "labelOffset": 4, "title": null}}
}
},
{
"data": {"name": "cfr"},
"mark": {"type": "line", "strokeWidth": 1.4},
"encoding": {
"x": {"field": "date", "type": "temporal",
 "scale": {"type": "utc", "domain": [{"year": 2008, "month": 5, "date": 4, "utc": true}, {"year": 2019, "month": 12, "date": 14, "utc": true}]},
 "axis": {"orient": "bottom", "title": null, "labels": false, "domain": false, "tickSize": 3,
  "values": [{"year":2008,"month":6,"date":30,"utc":true},{"year":2008,"month":9,"date":30,"utc":true},{"year":2009,"month":3,"date":31,"utc":true},{"year":2009,"month":6,"date":30,"utc":true},{"year":2009,"month":9,"date":30,"utc":true},{"year":2010,"month":3,"date":31,"utc":true},{"year":2010,"month":6,"date":30,"utc":true},{"year":2010,"month":9,"date":30,"utc":true},{"year":2011,"month":3,"date":31,"utc":true},{"year":2011,"month":6,"date":30,"utc":true},{"year":2011,"month":9,"date":30,"utc":true},{"year":2012,"month":3,"date":31,"utc":true},{"year":2012,"month":6,"date":30,"utc":true},{"year":2012,"month":9,"date":30,"utc":true},{"year":2013,"month":3,"date":31,"utc":true},{"year":2013,"month":6,"date":30,"utc":true},{"year":2013,"month":9,"date":30,"utc":true},{"year":2014,"month":3,"date":31,"utc":true},{"year":2014,"month":6,"date":30,"utc":true},{"year":2014,"month":9,"date":30,"utc":true},{"year":2015,"month":3,"date":31,"utc":true},{"year":2015,"month":6,"date":30,"utc":true},{"year":2015,"month":9,"date":30,"utc":true},{"year":2016,"month":3,"date":31,"utc":true},{"year":2016,"month":6,"date":30,"utc":true},{"year":2016,"month":9,"date":30,"utc":true},{"year":2017,"month":3,"date":31,"utc":true},{"year":2017,"month":6,"date":30,"utc":true},{"year":2017,"month":9,"date":30,"utc":true},{"year":2018,"month":3,"date":31,"utc":true},{"year":2018,"month":6,"date":30,"utc":true},{"year":2018,"month":9,"date":30,"utc":true},{"year":2019,"month":3,"date":31,"utc":true},{"year":2019,"month":6,"date":30,"utc":true},{"year":2019,"month":9,"date":30,"utc":true}]}},
"y": {"field": "value", "type": "quantitative",
 "scale": {"domain": [-254, 5054], "nice": false, "zero": false},
 "axis": {"orient": "right", "title": null, "format": "d", "values": [0, 700, 1400, 2100, 2800, 3500, 4200, 4900], "tickSize": 7, "labelPadding": 1}},
"color": {"datum": "现货价(中间价):甲醇:CFR中国主港(折合人民币)", "type": "nominal"}
}
},
{
"data": {"name": "spread"},
"mark": {"type": "line", "strokeWidth": 1.4},
"encoding": {
"x": {"field": "date", "type": "temporal", "scale": {"type": "utc", "domain": [{"year": 2008, "month": 5, "date": 4, "utc": true}, {"year": 2019, "month": 12, "date": 14, "utc": true}]}, "axis": null},
"y": {"field": "value", "type": "quantitative",
 "scale": {"domain": [-254, 5054], "nice": false, "zero": false},
 "axis": {"orient": "left", "title": null, "labels": false, "domain": false, "tickSize": -4, "values": [233.33, 466.67, 933.33, 1166.67, 1633.33, 1866.67, 2333.33, 2566.67, 3033.33, 3266.67, 3733.33, 3966.67, 4433.33, 4666.67]}},
"color": {"datum": "甲醇内外价差(国内-国外)", "type": "nominal"}
}
},
{
"data": {"name": "spread"},
"mark": {"type": "line", "opacity": 0},
"encoding": {
"x": {"field": "date", "type": "temporal", "scale": {"type": "utc", "domain": [{"year": 2008, "month": 5, "date": 4, "utc": true}, {"year": 2019, "month": 12, "date": 14, "utc": true}]}, "axis": null},
"y": {"field": "value", "type": "quantitative",
 "scale": {"domain": [-254, 5054], "nice": false, "zero": false},
 "axis": {"orient": "right", "title": null, "labels": false, "domain": false, "tickSize": -4, "values": [233.33, 466.67, 933.33, 1166.67, 1633.33, 1866.67, 2333.33, 2566.67, 3033.33, 3266.67, 3733.33, 3966.67, 4433.33, 4666.67]}}
}
}
],
"resolve": {"axis": {"x": "independent", "y": "independent"}}
}
